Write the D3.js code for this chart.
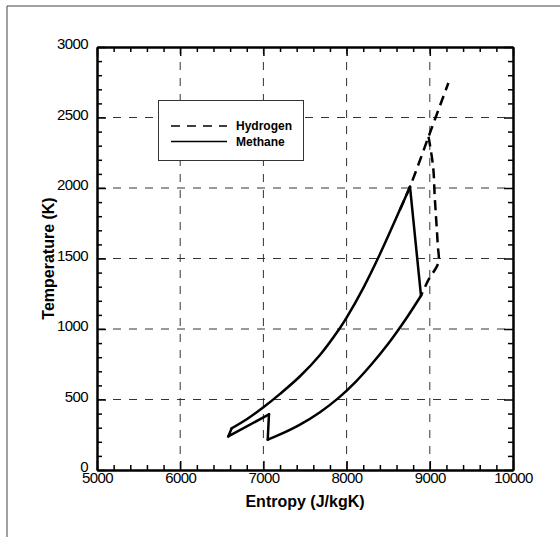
<!DOCTYPE html>
<html>
<head>
<meta charset="utf-8">
<script src="https://cdn.jsdelivr.net/npm/d3@7"></script>
<style>
  body { margin: 0; background: #fff; }
  svg { display: block; font-family: Arial, "Liberation Sans", sans-serif; }
</style>
</head>
<body>
<script>
// entropy (J/kgK) and temperature (K)
const methaneS = [6578, 6619, 6800, 7000, 7200, 7440, 7680, 7912, 8000, 8200, 8400, 8640, 8762,
                  8894, 8700, 8500, 8300, 8100, 7900, 7680, 7440, 7200, 7052, 7067, 6578];
const methaneT = [238, 296, 360, 445, 540, 665, 816, 1000, 1080, 1290, 1530, 1845, 2009,
                  1236, 1060, 895, 750, 620, 510, 410, 322, 252, 215, 395, 238];
// corners of the methane loop (index into the arrays above)
const methaneCorners = [0, 1, 12, 13, 22, 23, 24];

// null marks a break between the two dashed pieces
const hydrogenS = [8640, 8762, 8985, 9223, null, 8985, 9040, 9060, 9095, 9102, 8985, 8894];
const hydrogenT = [1845, 2009, 2364, 2745, null, 2364, 2150, 1930, 1600, 1470, 1350, 1236];

const xTicks = [5000, 6000, 7000, 8000, 9000, 10000];
const yTicks = [0, 500, 1000, 1500, 2000, 2500, 3000];

const width = 560, height = 537;
const margin = {left: 97, top: 47, right: 47, bottom: 67};

const svg = d3.select('body').append('svg')
    .attr('width', width)
    .attr('height', height);

// page frame (only top and left visible in the scan)
svg.append('path')
    .attr('d', `M7,${height} L7,6 L${width},6`)
    .attr('fill', 'none')
    .attr('stroke', '#444')
    .attr('stroke-width', 1);

const x = d3.scaleLinear().domain([5000, 10000]).range([margin.left, width - margin.right]);
const y = d3.scaleLinear().domain([0, 3000]).range([height - margin.bottom, margin.top]);

const x0 = x.range()[0], x1 = x.range()[1], y0 = y.range()[0], y1 = y.range()[1];

// dashed grid
const grid = svg.append('g')
    .attr('stroke', '#333')
    .attr('stroke-width', 1)
    .attr('stroke-dasharray', '8,8');
grid.selectAll('line.gx')
    .data(xTicks.slice(1, -1))
  .enter().append('line')
    .attr('x1', d => x(d)).attr('x2', d => x(d))
    .attr('y1', y0).attr('y2', y1);
grid.selectAll('line.gy')
    .data(yTicks.slice(1, -1))
  .enter().append('line')
    .attr('y1', d => y(d)).attr('y2', d => y(d))
    .attr('x1', x0).attr('x2', x1);

// axes, ticks drawn inward on all four sides
const xMinor = d3.range(5000, 10001, 200).filter(v => v % 1000);
const yMinor = d3.range(0, 3001, 100).filter(v => v % 500);

function addAxis(axis, offset, labels) {
  const g = svg.append('g').attr('transform', offset);
  g.call(axis);
  g.select('.domain').attr('stroke-width', 2);
  g.selectAll('.tick line').attr('stroke-width', 1.5);
  if (!labels) g.selectAll('.tick text').remove();
  return g;
}

const bottom = addAxis(d3.axisBottom(x).tickValues(xTicks).tickSize(-9).tickSizeOuter(0).tickPadding(2).tickFormat(d3.format('d')),
    `translate(0,${y0})`, true);
addAxis(d3.axisBottom(x).tickValues(xMinor).tickSize(-5).tickSizeOuter(0), `translate(0,${y0})`, false);
addAxis(d3.axisTop(x).tickValues(xTicks).tickSize(-9).tickSizeOuter(0), `translate(0,${y1})`, false);
addAxis(d3.axisTop(x).tickValues(xMinor).tickSize(-5).tickSizeOuter(0), `translate(0,${y1})`, false);
const left = addAxis(d3.axisLeft(y).tickValues(yTicks).tickSize(-9).tickSizeOuter(0).tickPadding(9).tickFormat(d3.format('d')),
    `translate(${x0},0)`, true);
addAxis(d3.axisLeft(y).tickValues(yMinor).tickSize(-5).tickSizeOuter(0), `translate(${x0},0)`, false);
addAxis(d3.axisRight(y).tickValues(yTicks).tickSize(-9).tickSizeOuter(0), `translate(${x1},0)`, false);
addAxis(d3.axisRight(y).tickValues(yMinor).tickSize(-5).tickSizeOuter(0), `translate(${x1},0)`, false);

bottom.selectAll('.tick text')
    .attr('font-size', 15)
    .attr('letter-spacing', -0.6)
    .attr('fill', '#000');
left.selectAll('.tick text')
    .attr('font-size', 15)
    .attr('letter-spacing', -0.6)
    .attr('dy', '0.1em')
    .attr('fill', '#000');

// axis titles
svg.append('text')
    .attr('x', (x0 + x1) / 2)
    .attr('y', 507)
    .attr('text-anchor', 'middle')
    .attr('font-size', 16)
    .attr('font-weight', 'bold')
    .text('Entropy (J/kgK)');

svg.append('text')
    .attr('transform', `translate(54,${(y0 + y1) / 2}) rotate(-90)`)
    .attr('text-anchor', 'middle')
    .attr('font-size', 16)
    .attr('font-weight', 'bold')
    .text('Temperature (K)');

// curves
const smooth = d3.line()
    .defined(d => d[0] != null)
    .curve(d3.curveCatmullRom.alpha(0.5))
    .x(d => x(d[0]))
    .y(d => y(d[1]));

const methane = methaneS.map((s, i) => [s, methaneT[i]]);
const pieces = d3.pairs(methaneCorners).map(([a, b]) => methane.slice(a, b + 1));

svg.append('g').selectAll('path')
    .data(pieces)
  .enter().append('path')
    .attr('d', smooth)
    .attr('fill', 'none')
    .attr('stroke', '#000')
    .attr('stroke-width', 2.5)
    .attr('stroke-linecap', 'round')
    .attr('stroke-linejoin', 'round');

svg.append('path')
    .datum(hydrogenS.map((s, i) => [s, hydrogenT[i]]))
    .attr('d', smooth)
    .attr('fill', 'none')
    .attr('stroke', '#000')
    .attr('stroke-width', 2.5)
    .attr('stroke-dasharray', '10,6');

// legend
const legend = svg.append('g');
legend.append('rect')
    .attr('x', 158.5).attr('y', 100.5)
    .attr('width', 145).attr('height', 60)
    .attr('fill', '#fff')
    .attr('stroke', '#333')
    .attr('stroke-width', 1);

const legendItems = [
  {name: 'Hydrogen', dash: '9,7', y: 126},
  {name: 'Methane', dash: null, y: 141.5}
];
legendItems.forEach(d => {
  legend.append('line')
      .attr('x1', 171).attr('x2', 227)
      .attr('y1', d.y).attr('y2', d.y)
      .attr('stroke', '#000')
      .attr('stroke-width', 1.5)
      .attr('stroke-dasharray', d.dash);
  legend.append('text')
      .attr('x', 236).attr('y', d.y + 4)
      .attr('font-size', 12)
      .attr('font-weight', 'bold')
      .text(d.name);
});
</script>
</body>
</html>
